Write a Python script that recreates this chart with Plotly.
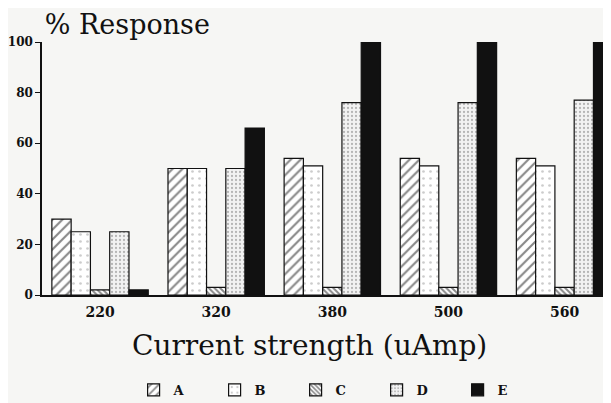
import plotly.graph_objects as go

categories = ["220", "320", "380", "500", "560"]
series_names = ["A", "B", "C", "D", "E"]
A = [30, 50, 54, 54, 54]
B = [25, 50, 51, 51, 51]
C = [2, 3, 3, 3, 3]
D = [25, 50, 76, 76, 77]
E = [2, 66, 100, 100, 100]
y_ticks = [0, 20, 40, 60, 80, 100]

values = [A, B, C, D, E]
patterns = [
    dict(shape="/", fgcolor="#111111", bgcolor="white", size=7, solidity=0.3),
    dict(shape=".", fgcolor="#9a9a9a", bgcolor="white", size=7, solidity=0.12),
    dict(shape="\\", fgcolor="#111111", bgcolor="white", size=4, solidity=0.5),
    dict(shape=".", fgcolor="#777777", bgcolor="#f2f2f2", size=4, solidity=0.25),
    dict(shape="", fgcolor="#111111", bgcolor="#111111"),
]

fig = go.Figure()
for name, vals, pat in zip(series_names, values, patterns):
    marker = dict(color=pat["bgcolor"], line=dict(color="#111111", width=1.2))
    if pat["shape"]:
        marker["pattern"] = pat
    else:
        marker["color"] = "#111111"
    fig.add_trace(go.Bar(x=categories, y=vals, name=name, marker=marker))

serif = "DejaVu Serif"
# page body adds an 8px offset; the figure is laid out 8px smaller to compensate
fig.update_layout(
    width=603, height=395,
    paper_bgcolor="#f6f6f4", plot_bgcolor="#f6f6f4",
    margin=dict(l=34, r=0, t=34, b=108, autoexpand=False),
    barmode="group", bargap=0.17, bargroupgap=0,
    font=dict(family=serif, color="#111111"),
    title=dict(text="% Response", x=0.061, xanchor="left", y=0.957, yanchor="middle",
               font=dict(family=serif, size=27, color="#111111")),
    showlegend=True,
    legend=dict(orientation="h", x=0.161, xanchor="left", y=-0.375, yanchor="middle",
                font=dict(family=serif, size=13, color="#111111", weight="bold"),
                entrywidth=36, entrywidthmode="pixels", bgcolor="rgba(0,0,0,0)",
                itemwidth=30, tracegroupgap=0),
    annotations=[dict(text="Current strength (uAmp)", xref="paper", yref="paper",
                      x=0.471, y=-0.198, xanchor="center", yanchor="middle",
                      showarrow=False, font=dict(family=serif, size=28, color="#111111"))],
)
fig.update_xaxes(type="category", range=[-0.5, 4.4], showline=True, linecolor="#111111",
                 linewidth=1.5, ticks="", showgrid=False, ticklabelstandoff=3,
                 tickfont=dict(family=serif, size=14, color="#111111", weight="bold"))
fig.update_yaxes(range=[0, 100], tickvals=y_ticks, showline=True, linecolor="#111111",
                 linewidth=1.5, ticks="outside", ticklen=5, tickcolor="#111111",
                 showgrid=False, zeroline=False, ticklabelstandoff=0,
                 tickfont=dict(family=serif, size=12, color="#111111", weight="bold"))

fig.write_html("out.html")
